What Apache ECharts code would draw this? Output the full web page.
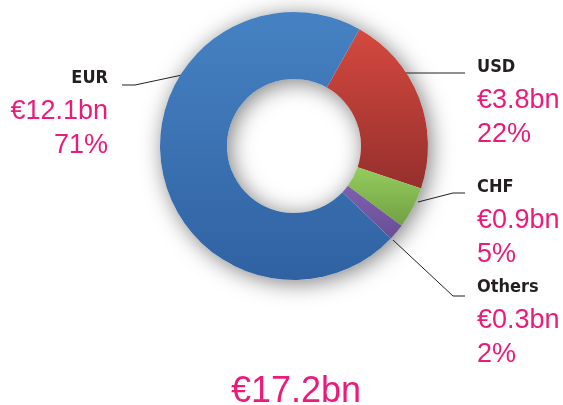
<!DOCTYPE html>
<html>
<head>
<meta charset="utf-8">
<script src="https://cdn.jsdelivr.net/npm/echarts@6/dist/echarts.min.js"></script>
<style>
html,body{margin:0;padding:0;background:#fff}
#main{width:563px;height:405px}
</style>
</head>
<body>
<div id="main"></div>
<script>
// data
var currencies = ['USD', 'CHF', 'Others', 'EUR'];
var amounts = [3.8, 0.9, 0.3, 12.1];      // € bn
var shares = [22, 5, 2, 71];              // %
var totalAmount = 17.2;

// slice colours (top, bottom of gradient)
var sliceColors = [
    ['#d4493f', '#962f2d'],
    ['#94cc5d', '#72a043'],
    ['#7d60ad', '#684e96'],
    ['#4682c3', '#3062a2']
];
// where each label sits and how its leader line runs
var labelSpots = [
    {x: 477, y: 50, align: 'left', line: [[405, 73], [435, 73], [465, 73]]},
    {x: 477, y: 170, align: 'left', line: [[418, 202], [453, 193], [465, 193]]},
    {x: 477, y: 270, align: 'left', line: [[393, 240], [453, 296], [465, 296]]},
    {x: 108, y: 61, align: 'right', line: [[182, 75], [135, 85], [122, 85]]}
];

var pink = '#ec1a7a';
var chart = echarts.init(document.getElementById('main'));

var pieData = currencies.map(function (c, i) {
    return {
        name: c,
        value: shares[i],
        itemStyle: {
            color: new echarts.graphic.LinearGradient(0, 0, 0, 1, [
                {offset: 0, color: sliceColors[i][0]},
                {offset: 1, color: sliceColors[i][1]}
            ])
        }
    };
});

var option = {
    animation: false,
    title: {
        text: '€' + totalAmount + 'bn',
        left: 226,
        top: 369,
        textStyle: {
            fontFamily: 'Liberation Sans',
            fontSize: 36,
            fontWeight: 'normal',
            color: pink
        }
    },
    series: [
        {
            // soft shadow behind the ring
            type: 'pie',
            silent: true,
            center: [294, 146],
            radius: [67, 134],
            label: {show: false},
            labelLine: {show: false},
            itemStyle: {
                color: '#fff',
                shadowBlur: 22,
                shadowOffsetX: 3,
                shadowOffsetY: 3,
                shadowColor: 'rgba(0,0,0,0.5)'
            },
            data: [{value: 1}],
            z: 1
        },
        {
            type: 'pie',
            silent: true,
            center: [294, 146],
            radius: [67, 134],
            startAngle: 60.7,
            avoidLabelOverlap: false,
            z: 2,
            itemStyle: {borderWidth: 0},
            label: {
                show: true,
                position: 'outside',
                formatter: function (p) {
                    var i = p.dataIndex;
                    return '{h|' + currencies[i] + '}\n{v|€' + amounts[i] + 'bn}\n{v|' + shares[i] + '%}';
                },
                rich: {
                    h: {
                        fontFamily: 'DejaVu Sans Condensed',
                        fontWeight: 'bold',
                        fontSize: 18,
                        color: '#231f20',
                        lineHeight: 34
                    },
                    v: {
                        fontFamily: 'Liberation Sans',
                        fontSize: 27,
                        color: pink,
                        lineHeight: 34
                    }
                }
            },
            labelLine: {
                show: true,
                length: 20,
                length2: 20,
                lineStyle: {color: '#231f20', width: 1}
            },
            labelLayout: function (params) {
                var s = labelSpots[params.dataIndex];
                return {
                    x: s.x,
                    y: s.y,
                    align: s.align,
                    verticalAlign: 'top',
                    labelLinePoints: s.line
                };
            },
            data: pieData
        }
    ]
};
chart.setOption(option);
</script>
</body>
</html>
